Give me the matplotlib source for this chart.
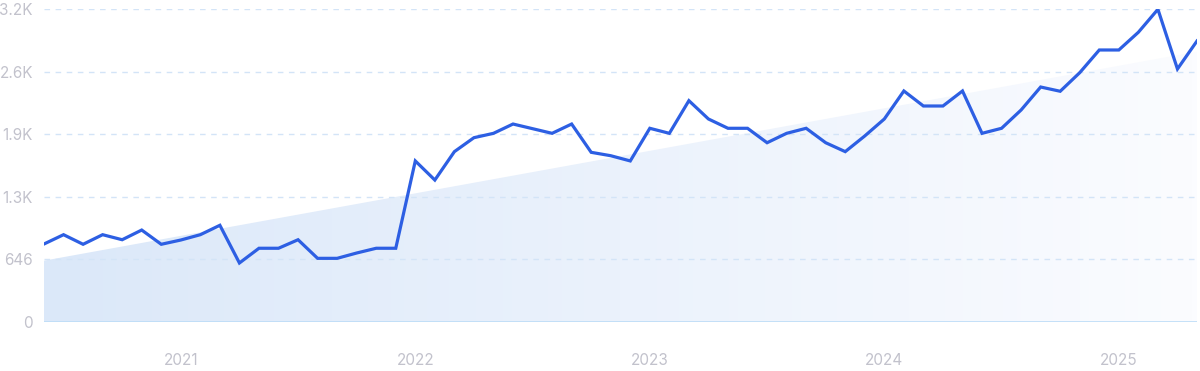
import numpy as np
import matplotlib
matplotlib.use("Agg")
import matplotlib.pyplot as plt
from matplotlib.patches import Polygon

months = np.arange(60)  # Jun 2020 .. May 2025, monthly
values = [805, 901, 802, 901, 849, 949, 802, 846, 901, 998,
          609, 761, 761, 849, 657, 657, 712, 761, 761, 1662,
          1465, 1758, 1902, 1947, 2043, 1995, 1947, 2043, 1751, 1716,
          1662, 1999, 1947, 2284, 2095, 1999, 1999, 1850, 1947, 1999,
          1850, 1758, 1920, 2095, 2384, 2229, 2229, 2384, 1947, 1999,
          2188, 2425, 2381, 2573, 2807, 2807, 2990, 3227, 2611, 2900]
trend_start, trend_end = 633, 2790
year_labels = ["2021", "2022", "2023", "2024", "2025"]
year_positions = [7, 19, 31, 43, 55]
ytick_values = [0, 646, 1292, 1938, 2584, 3230]
ytick_labels = ["0", "646", "1.3K", "1.9K", "2.6K", "3.2K"]

plt.rcParams['font.family'] = ['Inter', 'DejaVu Sans']
fig = plt.figure(figsize=(12, 3.71), dpi=100)
ax = fig.add_axes([44/1200, 49/371, (1197-44)/1200, (322-9)/371])

x0, x1 = months[0], months[-1]
ymax = ytick_values[-1]
ax.set_xlim(x0, x1)
ax.set_ylim(0, ymax)

# gradient trend area
grad = np.zeros((2, 256, 4))
left = np.array([219, 232, 249]) / 255
right = np.array([251, 252, 255]) / 255
for i in range(256):
    t = i / 255
    c = left * (1 - t) + right * t
    grad[:, i, :3] = c
    grad[:, i, 3] = 1
im = ax.imshow(grad, extent=[x0, x1, 0, ymax], aspect='auto', origin='lower', zorder=1)
poly = Polygon([[x0, 0], [x0, trend_start], [x1, trend_end], [x1, 0]], closed=True,
               facecolor='none', edgecolor='none', transform=ax.transData)
ax.add_patch(poly)
im.set_clip_path(poly)

for yv in ytick_values[1:]:
    ax.axhline(yv, color='#d3e4f7', lw=1, ls=(0, (4, 4)), zorder=2)
ax.axhline(0, color='#bcdcf7', lw=1.2, zorder=3)

ax.plot(months, values, color='#2d5fe3', lw=2.3, zorder=4, solid_joinstyle='miter')

for s in ax.spines.values():
    s.set_visible(False)
ax.set_yticks(ytick_values)
ax.set_yticklabels(ytick_labels)
ax.set_xticks(year_positions)
ax.set_xticklabels(year_labels)
ax.tick_params(axis='both', length=0, colors='#c2c2cc', labelsize=11)
ax.tick_params(axis='y', pad=8)
ax.tick_params(axis='x', pad=22)

fig.savefig("out.png", dpi=100)
